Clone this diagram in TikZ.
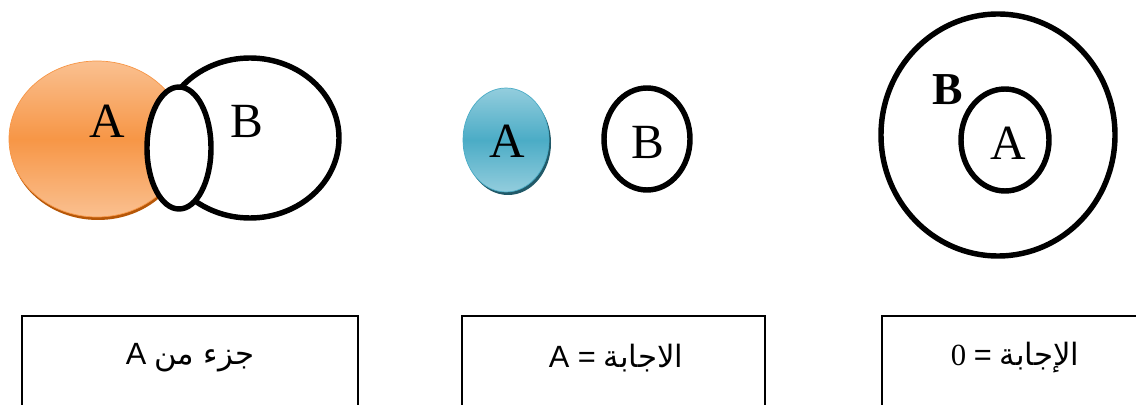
\documentclass[tikz,border=0pt]{standalone}
\usepackage{fontspec}
\setmainfont{Liberation Serif}
\newfontfamily\arabicfont[Script=Arabic]{DejaVu Sans}
\newfontfamily\latinsans{Liberation Sans}
\TeXXeTstate=1
\definecolor{orangemid}{HTML}{F79646}
\definecolor{orangelight}{HTML}{FAC090}
\definecolor{orangedark}{HTML}{B65708}
\definecolor{bluemid}{HTML}{4BACC6}
\definecolor{bluelight}{HTML}{93CDDD}
\definecolor{bluedark}{HTML}{215968}
\begin{document}
\begin{tikzpicture}[x=0.02cm,y=-0.02cm,
    setline/.style={line width=3.1pt},
    setlabel/.style={font=\fontsize{28}{30}\selectfont},
    answerbox/.style={draw,line width=0.9pt},
    answertext/.style={font=\fontsize{17.5}{20}\selectfont}]
            \useasboundingbox (0,0) rectangle (1136,405);

            % first case: A and B overlap
            \fill[orangedark] (98,142) ellipse [x radius=88, y radius=78];
            \shade[top color=orangelight,bottom color=orangelight,middle color=orangemid,
                draw=orangemid,thin] (97,139) ellipse [x radius=88, y radius=78];
            \draw[setline] (250,138) ellipse [x radius=89, y radius=80];
            \draw[setline,fill=white] (179,148) ellipse [x radius=32, y radius=61];
            \node[setlabel] (a1) at (107,121) {A};
            \node[setlabel] (b1) at (247,121) {B};

            % second case: A and B apart
            \fill[bluedark] (508,143) ellipse [x radius=43, y radius=52];
            \shade[top color=bluelight,bottom color=bluelight,middle color=bluemid,
                draw=bluemid,thin] (506,140) ellipse [x radius=43, y radius=52];
            \draw[setline] (647,139) ellipse [x radius=43, y radius=51];
            \node[setlabel] (a2) at (507,141) {A};
            \node[setlabel] (b2) at (648,142) {B};

            % third case: A inside B
            \draw[setline] (998,135) ellipse [x radius=117, y radius=121];
            \draw[setline] (1005,140) ellipse [x radius=44, y radius=51];
            \node[setlabel] (a3) at (1008,143) {A};
            \node[setlabel,font=\fontsize{26}{28}\selectfont\bfseries] (b3) at (948,90) {B};

            % answers
            \draw[answerbox] (22,316) rectangle (358,420);
            \draw[answerbox] (462,316) rectangle (765,420);
            \draw[answerbox] (882,316) rectangle (1150,420);

            \node[answertext] (ans1) at (190,358) {{\latinsans A} {\arabicfont\beginR جزء من\endR}};
            \node[answertext] (ans2) at (616,358) {{\latinsans A =} {\arabicfont\beginR الاجابة\endR}};
            \node[answertext] (ans3) at (1015,358) {0 {\latinsans =} {\arabicfont\beginR الإجابة\endR}};
        \end{tikzpicture}
\end{document}
